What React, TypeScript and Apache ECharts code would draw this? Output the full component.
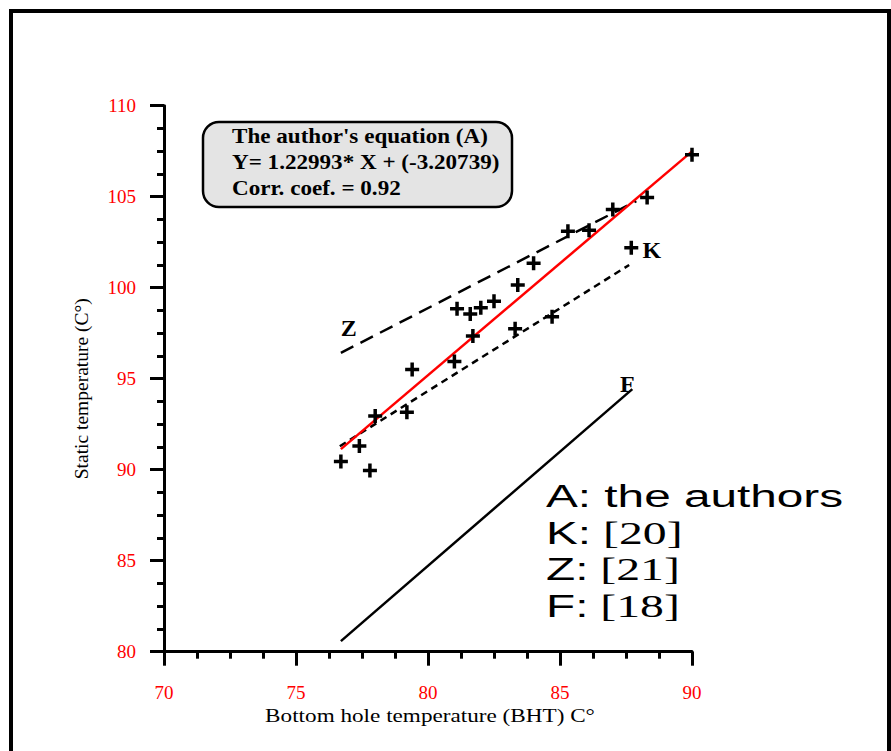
import React, { useEffect, useRef } from "react";
import * as echarts from "echarts";

// Measured points: [BHT, static temperature]
const bhtValues = [76.7, 77.4, 77.8, 78.0, 79.2, 79.4, 81.0, 81.1, 81.6, 81.7, 82.0, 82.5, 83.3, 83.4, 84.0, 84.7, 85.3, 86.1, 87.0, 87.7, 88.3, 90.0];
const staticValues = [90.45, 91.3, 89.95, 92.95, 93.15, 95.5, 95.95, 98.85, 98.55, 97.35, 98.9, 99.25, 97.75, 100.15, 101.35, 98.4, 103.1, 103.15, 104.3, 102.2, 104.95, 107.3];

// Correlation lines (end points)
const lineA = [[76.7, 91.13], [90.0, 107.49]];
const lineK = [[76.66, 91.29], [87.62, 101.25]];
const lineZ = [[76.7, 96.42], [87.89, 104.76]];
const lineF = [[76.7, 80.58], [87.74, 94.43]];

// Line tags
const tagNames = ["A", "K", "Z", "F"];
const tagX = [90.47, 88.48, 77.0, 87.55];
const tagY = [108.34, 102.07, 97.79, 94.71];

const xTicks = { min: 70, max: 90, interval: 5 };
const yTicks = { min: 80, max: 110, interval: 5 };

const xTitle = "Bottom hole temperature (BHT) C°";
const yTitle = "Static temperature (C°)";
const equationLines = ["The author's equation (A)", "Y= 1.22993* X + (-3.20739)", "Corr. coef. = 0.92"];
const legendKeys = ["A:", "K:", "Z:", "F:"];
const legendRefs = [" the authors", " [20]", " [21]", " [18]"];

const SERIF = "'Liberation Serif', 'Times New Roman', serif";
const SANS = "'Liberation Sans', Arial, sans-serif";

const plusPath =
  "path://M-1.75,-7L1.75,-7L1.75,-1.75L7,-1.75L7,1.75L1.75,1.75L1.75,7L-1.75,7L-1.75,1.75L-7,1.75L-7,-1.75L-1.75,-1.75Z";

export default function App() {
  const ref = useRef<HTMLDivElement>(null);
  useEffect(() => {
    if (!ref.current) return;
    const chart = echarts.init(ref.current, null, { renderer: "svg" });
    const axisCommon = {
      axisLine: { show: true, lineStyle: { color: "#000", width: 3 } },
      axisTick: { show: true, length: 14, lineStyle: { color: "#000", width: 3 } },
      minorTick: { show: true, splitNumber: 4, length: 7, lineStyle: { color: "#000", width: 3 } },
      splitLine: { show: false },
    };
    const lineSeries = (data: number[][], color: string, type: any) => ({
      type: "line",
      data,
      symbol: "none",
      silent: true,
      lineStyle: { color, width: 2.5, type },
      z: 3,
    });
    const legendGraphics: any[] = [];
    legendKeys.forEach((k, i) => {
      legendGraphics.push({
        type: "text",
        left: 546,
        top: 481 + i * 36.7,
        scaleX: 1.54,
        style: {
          rich: {
            s: { fontFamily: SANS, fontSize: 31, fill: "#000" },
            t: { fontFamily: i === 0 ? SANS : SERIF, fontSize: 31, fill: "#000" },
          },
          text: `{s|${k}}{t|${legendRefs[i]}}`,
        },
      });
    });
    chart.setOption({
      animation: false,
      grid: { left: 164, right: 199, top: 105.7, bottom: 99.3, containLabel: false },
      xAxis: {
        type: "value",
        ...xTicks,
        ...axisCommon,
        axisLabel: { color: "#ff0000", fontFamily: SERIF, fontSize: 19, margin: 31 },
      },
      yAxis: {
        type: "value",
        ...yTicks,
        ...axisCommon,
        name: yTitle,
        nameLocation: "middle",
        nameGap: 73,
        nameTextStyle: { color: "#000000", fontFamily: SERIF, fontSize: 19.5, padding: [0, 20, 0, 0] },
        axisLabel: { color: "#ff0000", fontFamily: SERIF, fontSize: 19, margin: 28 },
      },
      series: [
        lineSeries(lineF, "#000", "solid"),
        lineSeries(lineZ, "#000", [14, 8]),
        lineSeries(lineK, "#000", [7, 5]),
        lineSeries(lineA, "#ff0000", "solid"),
        {
          type: "scatter",
          data: bhtValues.map((x, i) => [x, staticValues[i]]),
          symbol: plusPath,
          symbolSize: 14,
          itemStyle: { color: "#000", opacity: 1 },
          z: 4,
        },
        {
          type: "scatter",
          symbolSize: 0,
          silent: true,
          z: 5,
          itemStyle: { opacity: 1 },
          data: tagNames.map((n, i) => ({
            value: [tagX[i], tagY[i]],
            name: n,
            label: {
              show: true,
              position: "inside",
              formatter: n,
              color: "#000",
              opacity: 1,
              fontWeight: "bold",
              fontFamily: n === "A" ? SANS : SERIF,
              fontSize: n === "A" ? 21 : 24,
            },
          })),
        },
      ],
      graphic: [
        {
          type: "rect",
          shape: { x: 11, y: 11, width: 878, height: 800 },
          style: { fill: "none", stroke: "#000", lineWidth: 4 },
          silent: true,
        },
        {
          type: "rect",
          shape: { x: 203, y: 122, width: 309, height: 85, r: 16 },
          style: { fill: "#e4e4e4", stroke: "#000", lineWidth: 2.5 },
          z: 10,
        },
        ...equationLines.map((t, i) => ({
          type: "text",
          x: 232,
          y: 136 + i * 26,
          scaleX: 1.1,
          z: 11,
          style: {
            text: t,
            fontFamily: SERIF,
            fontWeight: "bold",
            fontSize: 21,
            fill: "#000",
            verticalAlign: "middle",
          },
        })),
        {
          type: "text",
          x: 430,
          y: 716,
          scaleX: 1.22,
          style: {
            text: xTitle,
            fontFamily: SERIF,
            fontSize: 19,
            fill: "#000",
            align: "center",
            verticalAlign: "middle",
          },
        },
        ...legendGraphics,
      ],
    });
    return () => chart.dispose();
  }, []);
  return (
    <div
      ref={ref}
      style={{ position: "absolute", left: 0, top: 0, width: 891, height: 751, background: "#fff" }}
    />
  );
}
